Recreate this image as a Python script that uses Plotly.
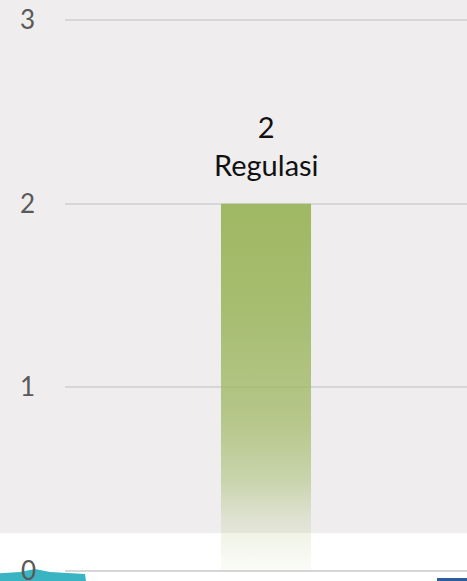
import plotly.graph_objects as go

categories = ["Regulasi"]
values = [2]
y_ticks = [0, 1, 2, 3]
tick_labels = ["0", "1", "2", "3"]

W, H = 467, 581
ML = 65
bar_w = 0.224
TICK_FONT = dict(family="Lato", size=26, color="#595959")

fig = go.Figure()

for i, (cat, v) in enumerate(zip(categories, values)):
    x0, x1 = i - bar_w / 2, i + bar_w / 2
    fig.add_trace(go.Scatter(
        x=[x0, x1, x1, x0, x0],
        y=[0, 0, v, v, 0],
        mode="lines",
        line=dict(width=0),
        fill="toself",
        fillgradient=dict(
            type="vertical",
            start=0,
            stop=v,
            colorscale=[
                [0.0, "rgba(159,184,99,0.04)"],
                [0.14, "rgba(159,184,99,0.20)"],
                [0.25, "rgba(159,184,99,0.48)"],
                [0.41, "rgba(159,184,99,0.72)"],
                [0.7, "rgba(159,184,99,0.90)"],
                [1.0, "rgba(159,184,99,1.0)"],
            ],
        ),
        hoverinfo="text",
        text=cat,
        showlegend=False,
    ))
    fig.add_annotation(
        x=i, y=v, xref="x", yref="y",
        text=f"{v}<br>{cat}",
        showarrow=False,
        yanchor="bottom",
        yshift=20,
        font=dict(family="Lato", size=29, color="#111111"),
    )

# bottom tick label is cut by the image edge: draw it in a clipped text box
fig.add_annotation(
    x=(28 - ML) / (W - ML), xref="paper", xanchor="center",
    y=y_ticks[0], yref="y", yanchor="top", yshift=18,
    text=tick_labels[0], showarrow=False,
    height=28, valign="top", borderpad=0,
    font=TICK_FONT,
)

# white lower band
fig.add_shape(type="rect", xref="paper", yref="paper",
              x0=-0.3, x1=1.2, y0=-0.1, y1=(H - 533) / H,
              fillcolor="white", line=dict(width=0), layer="below")
# cut-off teal and blue elements at the bottom edge
fig.add_shape(type="path", xref="paper", yref="paper",
              path=f"M -0.2 0 L -0.2 {7/H} L {(20-ML)/(W-ML)} {9/H} "
                   f"L {(35-ML)/(W-ML)} {12/H} L {(50-ML)/(W-ML)} {9/H} "
                   f"L {(85-ML)/(W-ML)} {7/H} L {(86-ML)/(W-ML)} 0 Z",
              fillcolor="#3ab4c3", line=dict(width=0), layer="below")
fig.add_shape(type="rect", xref="paper", yref="paper",
              x0=(437 - ML) / (W - ML), x1=1.05, y0=0, y1=3 / H,
              fillcolor="#2f5e9f", line=dict(width=0), layer="below")

span = H / 183.67
ymin = -10 / 183.67
fig.update_layout(
    width=W, height=H,
    margin=dict(l=ML, r=0, t=0, b=0),
    paper_bgcolor="#efedee",
    plot_bgcolor="rgba(0,0,0,0)",
    xaxis=dict(range=[-0.5, 0.5], showticklabels=False, showgrid=False,
               zeroline=False, showline=False, fixedrange=True),
    yaxis=dict(range=[ymin, ymin + span], tickvals=y_ticks,
               ticktext=[""] + tick_labels[1:],
               showgrid=True, gridcolor="#d6d6d6", gridwidth=1.5,
               zeroline=False, showline=False, ticks="",
               ticklabelstandoff=29,
               tickfont=TICK_FONT),
)

fig.write_html(
    "out.html",
    config={"displayModeBar": False},
    post_script="document.body.style.margin='0';document.body.style.padding='0';"
                "document.body.style.overflow='hidden';",
)
